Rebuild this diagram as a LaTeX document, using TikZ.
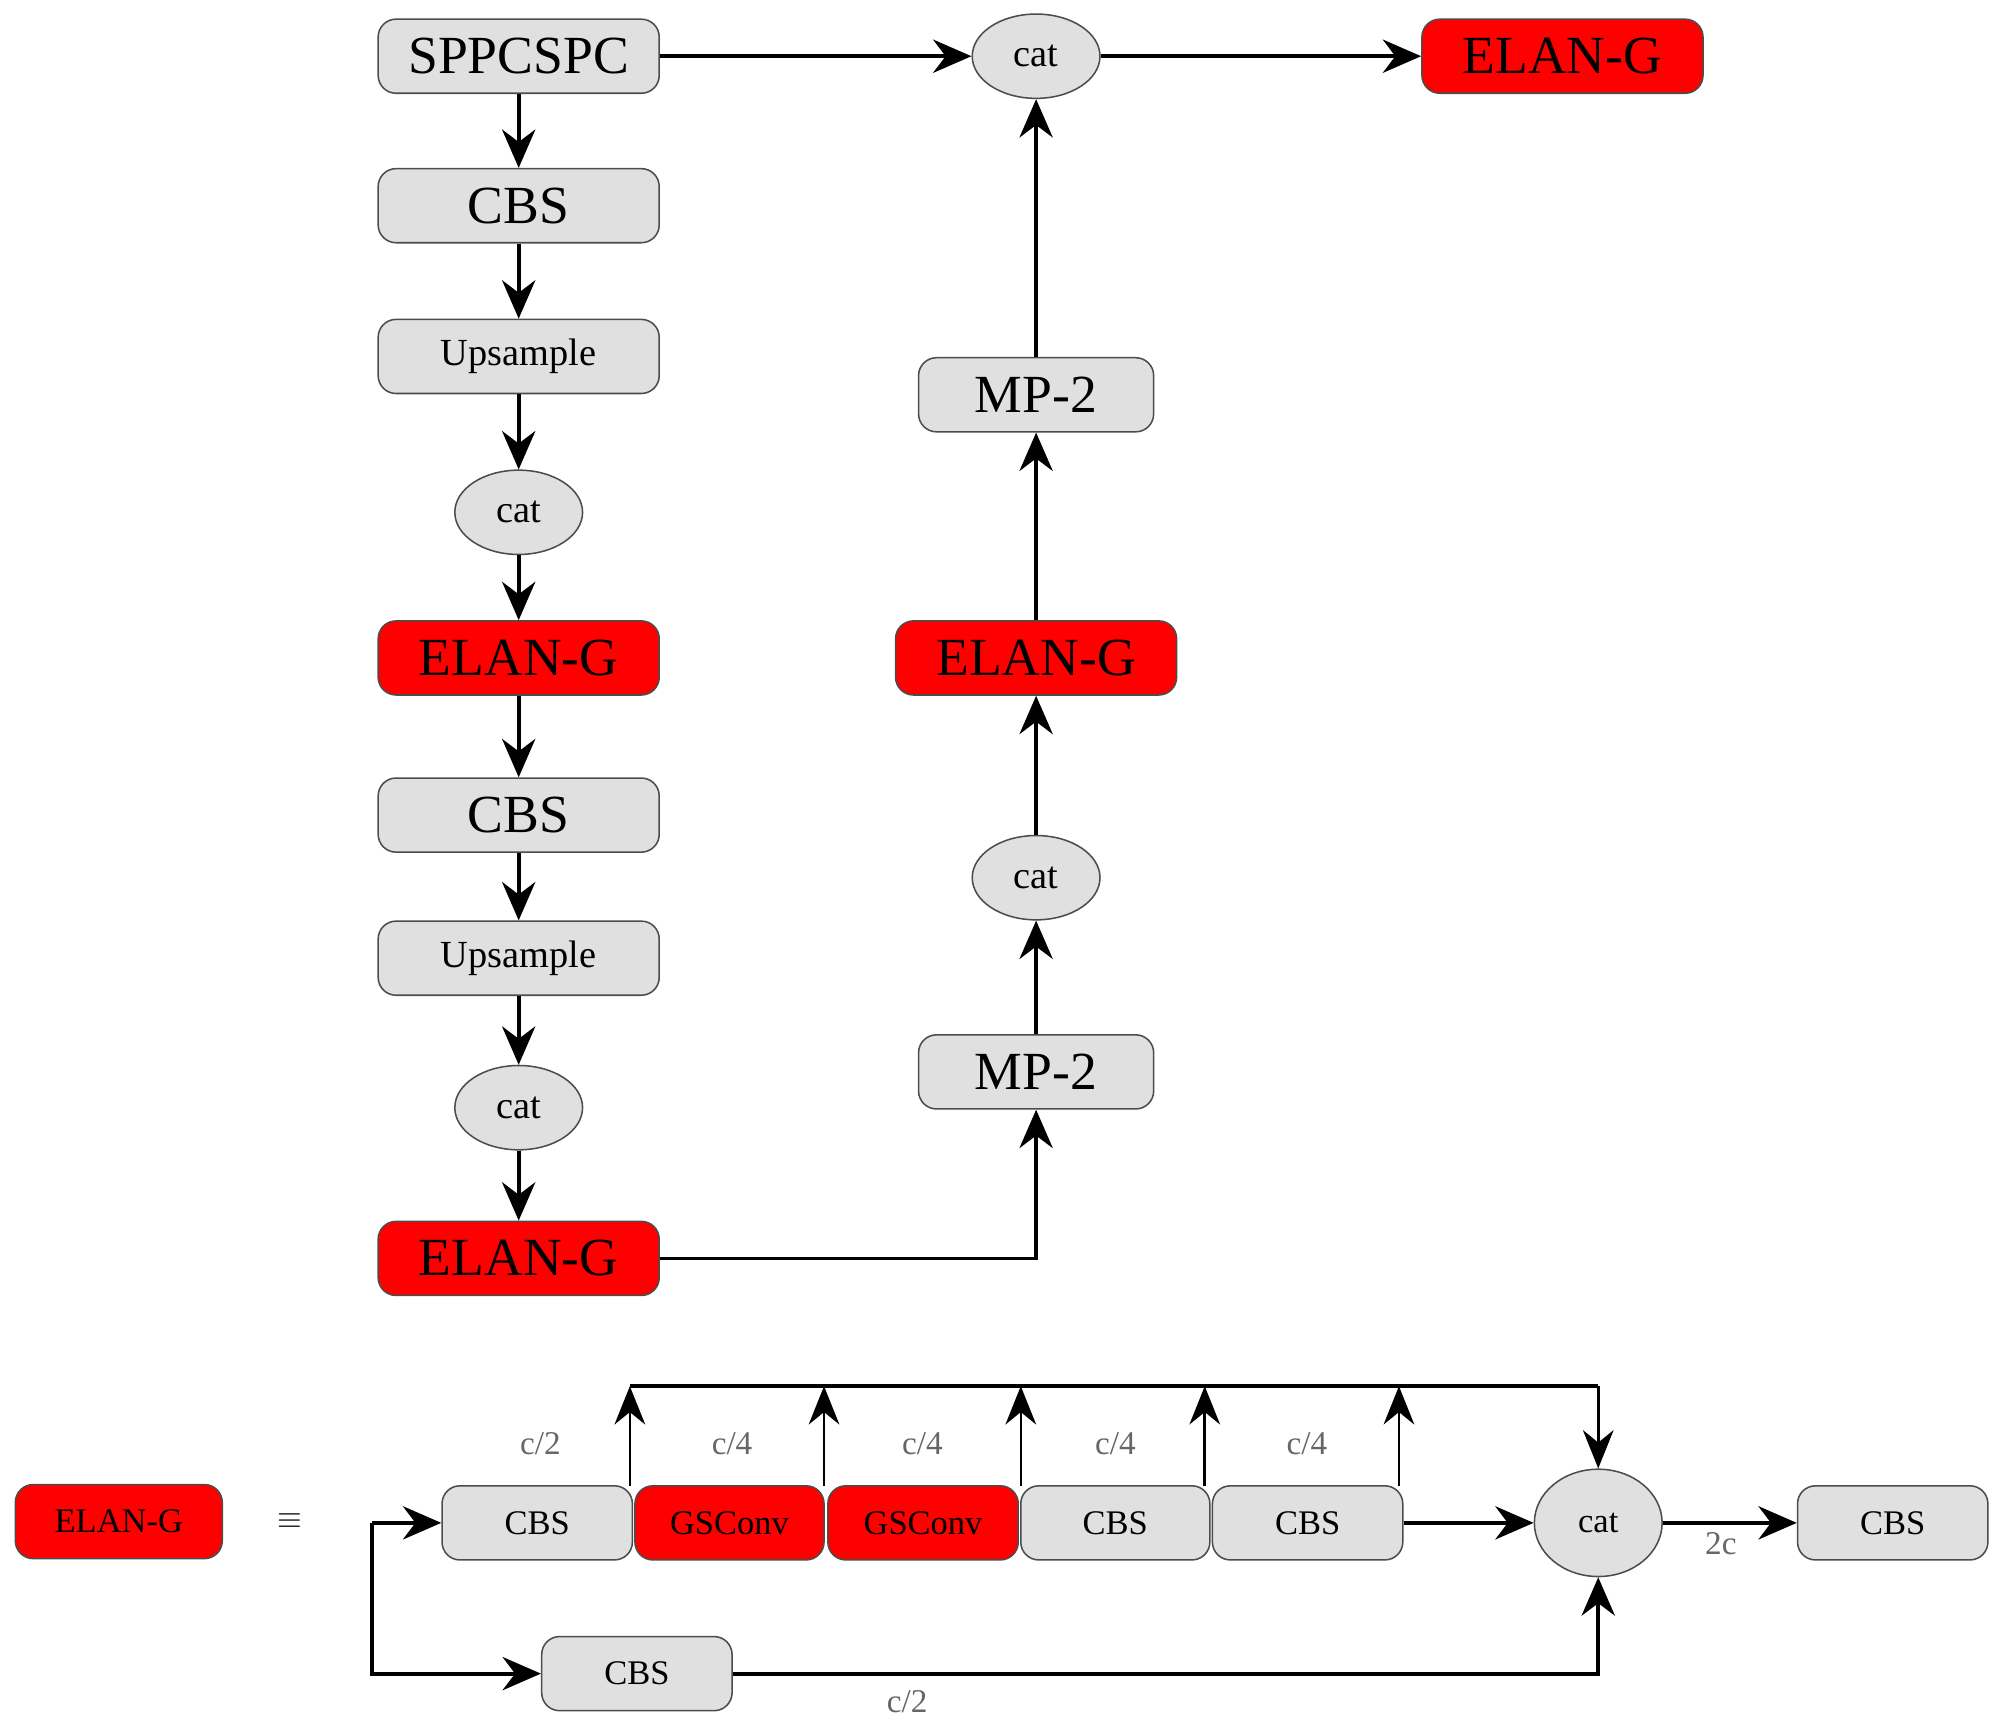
\documentclass[tikz,border=0pt]{standalone}
\usepackage{fontspec}
\setmainfont{Liberation Serif}
\usetikzlibrary{arrows.meta,shapes.geometric}
\begin{document}
\begin{tikzpicture}[x=1pt,y=-1pt,
  box/.style={draw=black!70,line width=1.2pt,rounded corners=14pt,fill=black!12,minimum height=58pt,inner sep=0pt},
  red/.style={box,fill=red},
  ell/.style={ellipse,draw=black!70,line width=1.2pt,fill=black!12,minimum width=100pt,minimum height=66pt,inner sep=0pt},
  big/.style={font=\fontsize{42}{44}\selectfont},
  mid/.style={font=\fontsize{30}{32}\selectfont},
  sm/.style={font=\fontsize{27}{29}\selectfont},
  lab/.style={font=\fontsize{26}{28}\selectfont,text=black!60},
  ar/.style={line width=3pt,-{Stealth[length=30pt,width=26pt]}},
  arT/.style={line width=2pt,-{Stealth[length=30pt,width=24pt]}}]
\useasboundingbox (0,0) rectangle (1560,1346);
% left column
\node[box,big,minimum width=220pt] (sp) at (406,44) {SPPCSPC};
\node[box,big,minimum width=220pt] (c1) at (406,161) {CBS};
\node[box,mid,minimum width=220pt] (u1) at (406,279) {Upsample};
\node[ell,mid] (k1) at (406,401) {cat};
\node[red,big,minimum width=220pt] (e1) at (406,515) {ELAN-G};
\node[box,big,minimum width=220pt] (c2) at (406,638) {CBS};
\node[box,mid,minimum width=220pt] (u2) at (406,750) {Upsample};
\node[ell,mid] (k2) at (406,867) {cat};
\node[red,big,minimum width=220pt] (e2) at (406,985) {ELAN-G};
% right column
\node[ell,mid] (kt) at (811,44) {cat};
\node[box,big,minimum width=184pt] (m1) at (811,309) {MP-2};
\node[red,big,minimum width=220pt] (e3) at (811,515) {ELAN-G};
\node[ell,mid] (k3) at (811,687) {cat};
\node[box,big,minimum width=184pt] (m2) at (811,839) {MP-2};
\node[red,big,minimum width=220pt] (e4) at (1223,44) {ELAN-G};
\draw[ar] (sp)--(c1); \draw[ar] (c1)--(u1); \draw[ar] (u1)--(k1);
\draw[ar] (k1)--(e1); \draw[ar] (e1)--(c2); \draw[ar] (c2)--(u2);
\draw[ar] (u2)--(k2); \draw[ar] (k2)--(e2);
\draw[ar] (e2.east) -| (m2.south);
\draw[ar] (m2)--(k3); \draw[ar] (k3)--(e3); \draw[ar] (e3)--(m1); \draw[ar] (m1)--(kt);
\draw[ar] (sp)--(kt); \draw[ar] (kt)--(e4);
% legend
\node[red,sm,minimum width=162pt] (le) at (93,1191) {ELAN-G};
\node[sm] (eq) at (227,1191) {$\equiv$};
\node[box,sm,minimum width=149pt] (b1) at (420.5,1192) {CBS};
\node[red,sm,minimum width=148pt] (b2) at (571,1192) {GSConv};
\node[red,sm,minimum width=149pt] (b3) at (722.5,1192) {GSConv};
\node[box,sm,minimum width=148pt] (b4) at (873,1192) {CBS};
\node[box,sm,minimum width=149pt] (b5) at (1023.5,1192) {CBS};
\node[ell,sm,minimum height=84pt] (kc) at (1251,1192) {cat};
\node[box,sm,minimum width=149pt] (b6) at (1481.5,1192) {CBS};
\node[box,sm,minimum width=149pt] (bl) at (498.5,1310) {CBS};
\coordinate (s) at (291,1192);
\coordinate (t) at (1251,1085);
\draw[ar] (s)--(b1.west);
\draw[ar] (s) |- (bl.west);
\draw[ar] (bl.east) -| (kc.south);
\draw[ar] (b5)--(kc); \draw[ar] (kc)--(b6);
\draw[line width=3pt] (493,1085)--(t);
\draw[arT] (t)--(kc.north);
\foreach \xx in {493,645,799,943,1095} \draw[arT] (\xx,1163)--(\xx,1085);
\node[lab] (l1) at (423,1130) {c/2};
\node[lab] (l2) at (573,1130) {c/4};
\node[lab] (l3) at (722,1130) {c/4};
\node[lab] (l4) at (873,1130) {c/4};
\node[lab] (l5) at (1023,1130) {c/4};
\node[lab] (l6) at (1347,1208) {2c};
\node[lab] (l7) at (710,1332) {c/2};
\end{tikzpicture}
\end{document}
